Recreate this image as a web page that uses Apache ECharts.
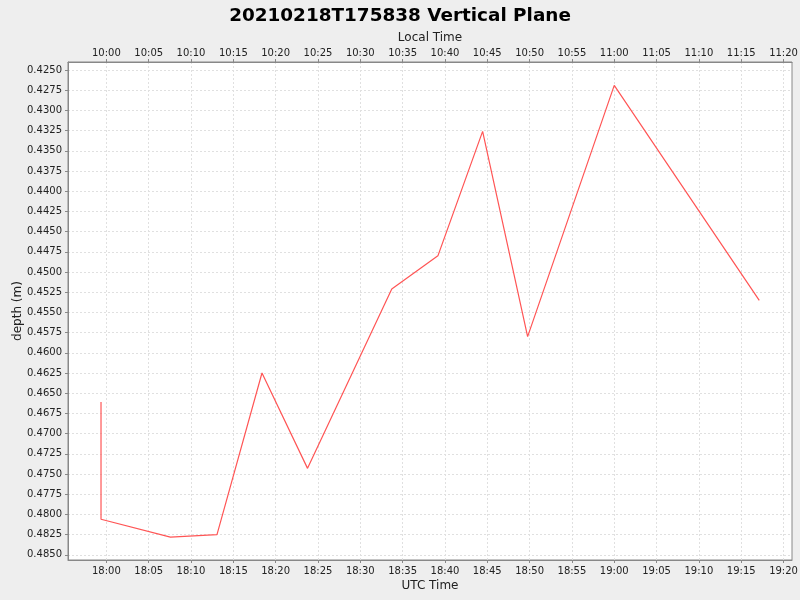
<!DOCTYPE html>
<html>
<head>
<meta charset="utf-8">
<script src="https://cdn.jsdelivr.net/npm/echarts@6/dist/echarts.min.js"></script>
<style>
html,body{margin:0;padding:0;background:#eeeeee;}
#chart{width:800px;height:600px;}
</style>
</head>
<body>
<div id="chart"></div>
<script>
// UTC sample times (2021-02-18) and depths (m)
const utcTimes = ['17:59:22','17:59:22','18:07:34','18:13:04','18:18:23','18:23:46','18:33:43','18:39:10','18:44:27','18:49:46','19:00:00','19:17:08'];
const depths   = [0.4661, 0.4806, 0.4828, 0.4825, 0.4625, 0.4743, 0.4521, 0.4480, 0.4326, 0.4580, 0.4269, 0.4535];
// Tick labels
const xTickTimes = ['18:00','18:05','18:10','18:15','18:20','18:25','18:30','18:35','18:40','18:45','18:50','18:55','19:00','19:05','19:10','19:15','19:20'];
const yTicks = [0.4250,0.4275,0.4300,0.4325,0.4350,0.4375,0.4400,0.4425,0.4450,0.4475,0.4500,0.4525,0.4550,0.4575,0.4600,0.4625,0.4650,0.4675,0.4700,0.4725,0.4750,0.4775,0.4800,0.4825,0.4850];
const xRange = ['17:55:28','19:21:00'];
const yRange = [0.42401, 0.48564];
const localOffsetHours = -8;

function toMs(t){
  const p = t.split(':').map(Number);
  return Date.UTC(2021,1,18,p[0],p[1],p[2]||0);
}
function pad(n){return (n<10?'0':'')+n;}
function fmt(ms, offH){
  const d = new Date(ms + offH*3600000);
  return pad(d.getUTCHours())+':'+pad(d.getUTCMinutes());
}
const seriesData = utcTimes.map((t,i)=>[toMs(t), depths[i]]);
const xTicks = xTickTimes.map(toMs);

const G = {left:68, top:62, right:8, bottom:40};
const font = 'DejaVu Sans';
const tickLabel = {fontFamily:font,fontSize:10,color:'#222'};
const gridLine = {color:'#e0e0e0',type:[2,2],width:1};
const chart = echarts.init(document.getElementById('chart'));
const option = {
  backgroundColor:'#eeeeee',
  animation:false,
  title:{
    text:'20210218T175838 Vertical Plane',
    left:'center', top:2,
    textStyle:{fontFamily:font,fontSize:18.4,fontWeight:'bold',color:'#000'}
  },
  grid:[{left:G.left,top:G.top,right:G.right,bottom:G.bottom,show:true,backgroundColor:'#ffffff',borderColor:'#888',borderWidth:1,
        containLabel:false,outerBoundsMode:'none'}],
  xAxis:[{
    type:'value', position:'bottom', gridIndex:0,
    min:toMs(xRange[0]), max:toMs(xRange[1]),
    name:'UTC Time', nameLocation:'middle', nameGap:20, nameMoveOverlap:false,
    nameTextStyle:{fontFamily:font,fontSize:12,color:'#222'},
    axisLine:{show:true,lineStyle:{color:'#888'}},
    axisTick:{show:true,length:3,customValues:xTicks,lineStyle:{color:'#888'}},
    axisLabel:Object.assign({customValues:xTicks,margin:6,formatter:v=>fmt(v,0)},tickLabel),
    splitLine:{show:true,lineStyle:gridLine}
  },{
    type:'value', position:'top', gridIndex:0,
    min:toMs(xRange[0]), max:toMs(xRange[1]),
    name:'Local Time', nameLocation:'middle', nameGap:18, nameMoveOverlap:false,
    nameTextStyle:{fontFamily:font,fontSize:12,color:'#222'},
    axisLine:{show:true,lineStyle:{color:'#888'}},
    axisTick:{show:true,length:3,customValues:xTicks,lineStyle:{color:'#888'}},
    axisLabel:Object.assign({customValues:xTicks,margin:4,formatter:v=>fmt(v,localOffsetHours)},tickLabel),
    splitLine:{show:false}
  }],
  yAxis:[{
    type:'value', inverse:true, gridIndex:0,
    min:yRange[0], max:yRange[1],
    name:'depth (m)', nameLocation:'middle', nameGap:44, nameMoveOverlap:false,
    nameTextStyle:{fontFamily:font,fontSize:12,color:'#222'},
    axisLine:{show:true,lineStyle:{color:'#888'}},
    axisTick:{show:true,length:3,customValues:yTicks,lineStyle:{color:'#888'}},
    axisLabel:Object.assign({customValues:yTicks,margin:6,formatter:v=>v.toFixed(4)},tickLabel),
    splitLine:{show:true,lineStyle:gridLine}
  }],
  series:[{
    type:'line', xAxisIndex:0, yAxisIndex:0, data:seriesData,
    showSymbol:false, symbol:'none', z:5,
    lineStyle:{color:'#ff5555',width:1.2},
    itemStyle:{color:'#ff5555'}
  }]
};
chart.setOption(option);
</script>
</body>
</html>
